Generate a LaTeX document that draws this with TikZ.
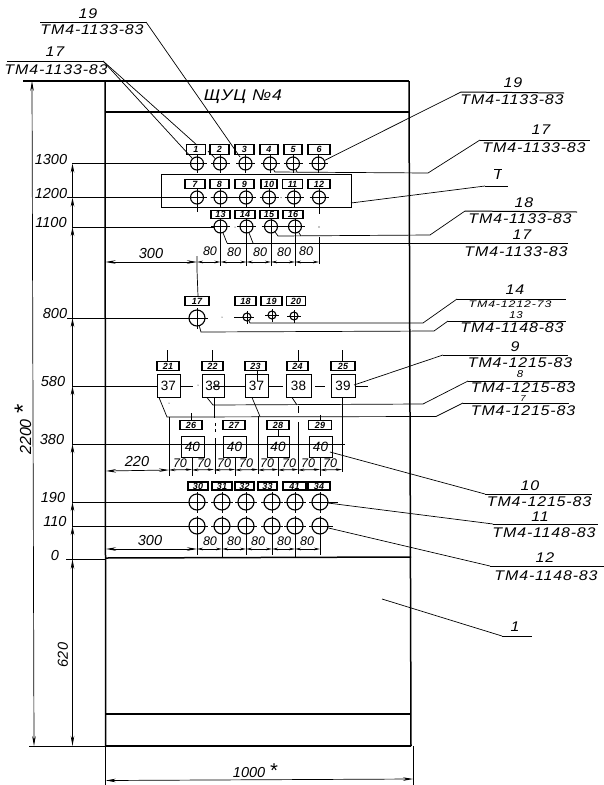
\documentclass[tikz,border=0pt]{standalone}
\usepackage{fontspec}
\setmainfont{Liberation Sans}[FakeStretch=1.14,LetterSpace=6]
\newfontfamily\dimfont{Liberation Sans}
\newfontfamily\widefont{Liberation Sans}[FakeStretch=1.3,LetterSpace=9]
\usetikzlibrary{arrows.meta}
\tikzset{
 thin line/.style={line width=0.7pt},
 frameline/.style={line width=1.5pt},
 leader/.style={line width=0.7pt},
 shelf/.style={line width=1pt},
 dimarrow/.style={line width=0.7pt,{Stealth[length=10pt,width=3.5pt]}-{Stealth[length=10pt,width=3.5pt]}},
 chain/.style={line width=0.8pt,{Stealth[length=6pt,width=2.6pt]}-{Stealth[length=6pt,width=2.6pt]}},
 uparrow/.style={line width=0.7pt,{Stealth[length=9pt,width=3.5pt]}-},
 txt/.style={inner sep=0pt,font=\itshape\fontsize{14}{15}\selectfont},
 dimtxt/.style={inner sep=0pt,font=\dimfont\itshape\fontsize{14.5}{15}\selectfont},
 tiny dim/.style={inner sep=0pt,font=\dimfont\itshape\fontsize{12.5}{13}\selectfont},
 small/.style={inner sep=0pt,font=\itshape\fontsize{10}{10}\selectfont},
 widesmall/.style={inner sep=0pt,font=\widefont\itshape\fontsize{9.5}{10}\selectfont},
 tagbox/.style={draw,line width=1.1pt,inner sep=0pt,minimum height=9.5pt,font=\dimfont\itshape\bfseries\fontsize{9}{9}\selectfont},
 bigbox/.style={draw,line width=1pt,inner sep=0pt,font=\dimfont\fontsize{13.5}{14}\selectfont},
 ring/.style={draw,circle,line width=1.1pt,inner sep=0pt},
}
\newcommand\ringat[4]{% name, x, y, diameter
 \node[ring,minimum size=#4pt] (#1) at (#2,#3) {};
 \draw[thin line] ({#2-#4/2-3},#3) -- ({#2+#4/2+3},#3);
 \draw[thin line] (#2,{#3-#4/2-2}) -- (#2,{#3+#4/2+3});
}
\begin{document}
\begin{tikzpicture}[x=1pt,y=-1pt]
\useasboundingbox (0,0) rectangle (604,785);
% --- cabinet frame
\draw[frameline] (105,81) -- (105.7,746);
\draw[frameline] (409,81) -- (411,746);
\draw[line width=1.1pt] (23,81) -- (409,81);
\draw[frameline] (105,112) -- (409,112);
\draw[frameline] (105.5,558) -- (411,557);
\draw[line width=1.1pt] (105.7,714) -- (411,714);
\draw[frameline] (105.7,746) -- (411,746);
\draw[thin line] (29,746) -- (105,746);
\node[txt,font=\itshape\fontsize{15.5}{16}\selectfont] (title) at (243,97) {ЩУЦ №4};
% --- inner panel
\draw[line width=0.9pt] (161,174.5) rectangle (351,207.5);
% --- outer dims
\draw[dimarrow] (32,81) -- (34,746);
\node[dimtxt,rotate=90,font=\dimfont\itshape\fontsize{16}{17}\selectfont] (d2200) at (23,430) {2200 {\fontsize{24}{24}\selectfont *}};
\node[dimtxt,rotate=90] (d620) at (63,655) {620};
% level lines
\foreach \yy/\txa/\xa/\sx in {163.5/1300/51/72,197.5/1200/51/67,227/1100/51/72,318/800/55/67,386/580/53/72,444/380/52/72,502/190/53/72,526/110/55/72,559/0/55/66}{
  \node[dimtxt,anchor=center] at (\xa,{\yy-4}) {\txa};
  \draw[thin line] (\sx,\yy) -- (105,\yy);
}
\foreach \ya/\yb in {163.5/197.5,197.5/227,227/318,318/386,386/444,444/502,502/526,526/559}{
  \draw[uparrow] (72.5,{\ya}) -- (72.5,{\yb});
}
\draw[dimarrow] (72.5,559) -- (72.5,746);
% --- row 1
\foreach \nm/\xx/\bw in {1/196/19,2/219.5/19,3/244.5/19,4/269/18,5/293/18,6/319/22}{
  \node[tagbox,minimum width=\bw pt] (t\nm) at (\xx,149.5) {\nm};
}
\foreach \nm/\xx in {1/197,2/220,3/245.5,4/270,5/293,6/318.5}{ \ringat{r\nm}{\xx}{163.5}{13} }
\draw[thin line] (105,163.5) -- (191,163.5);
% --- row 2
\foreach \nm/\xx/\bw in {7/195/20,8/219.5/19,9/244.5/19,10/269/16,11/292.5/20,12/319/22}{
  \node[tagbox,minimum width=\bw pt] (t\nm) at (\xx,184) {\nm};
}
\foreach \nm/\xx in {7/197,8/220.5,9/246,10/269,11/294,12/319}{ \ringat{r\nm}{\xx}{197.5}{13} }
\draw[thin line] (105,197.5) -- (191,197.5);
\draw[thin line] (220,197.5) -- (252,197.5);
\draw[thin line] (197,197.5) -- (197,212);
\draw[thin line] (319,197.5) -- (319,214);
\fill (211,197.5) circle (.5pt) (281,197.5) circle (.5pt);
% --- row 3
\foreach \nm/\xx/\bw in {13/220.5/19,14/245/20,15/269/18,16/293/20}{
  \node[tagbox,minimum width=\bw pt,minimum height=8.5pt] (t\nm) at (\xx,214.5) {\nm};
}
\foreach \nm/\xx in {13/220.5,14/246.5,15/271,16/295}{ \ringat{r\nm}{\xx}{226.5}{13} }
\draw[thin line] (105,227) -- (214,227);
\draw[thin line] (265,226.5) -- (301,226.5);
\fill (235,227) circle (.5pt) (319,227) circle (.6pt);
% verticals to 1st dim
\foreach \xx in {220.5,246.5,271,295}{ \draw[thin line] (\xx,232) -- (\xx,266); }
\draw[thin line] (319,237) -- (319,264);
\draw[thin line] (197,256) -- (197,270) -- (198,296);
% dim 300 row
\draw[dimarrow] (105.5,262) -- (197,262);
\foreach \xa/\xb in {197/220.5,220.5/246.5,246.5/271,271/295,295/319}{ \draw[chain] (\xa,262) -- (\xb,262); }
\node[dimtxt] (d300a) at (151,254) {300};
\foreach \xx/\yy in {210/251,234/252,260/252,284/252,306/251}{ \node[tiny dim] at (\xx,\yy) {80}; }
% --- row 800
\node[tagbox,minimum width=24pt] (t17) at (197,301) {17};
\node[tagbox,minimum width=21pt] (t18) at (245.5,301) {18};
\node[tagbox,minimum width=21pt] (t19) at (271.5,301) {19};
\node[tagbox,minimum width=19pt] (t20) at (296,301) {20};
\ringat{r17}{197}{318}{16}
\ringat{r18}{247}{317}{8}
\ringat{r19}{272}{315}{8}
\ringat{r20}{294}{316}{8}
\draw[thin line] (105,318) -- (190,318);
\draw[thin line] (234,317) -- (253,317);
\fill (222,317) circle (.5pt);
% --- row 580
\foreach \nm/\xx/\bw in {21/168/22,22/212.5/21,23/255.5/21,24/297.5/21,25/343/24}{
  \node[tagbox,minimum width=\bw pt] (t\nm) at (\xx,366) {\nm};
}
\foreach \nm/\xx/\bw/\val in {a/168.5/23/37,b/213/22/38,c/256.5/23/37,d/298.5/25/38,e/343/24/39}{
  \node[bigbox,minimum width=\bw pt,minimum height=22.5pt] (s\nm) at (\xx,386) {\val};
}
\draw[thin line] (105,386) -- (157,386);
\draw[thin line] (180,386) -- (193,386);
\draw[thin line] (213,386) -- (245,386);
\draw[thin line] (268,386) -- (283,386);
\draw[thin line] (315,386) -- (325,386);
\draw[thin line] (355,386) -- (368,386);
\foreach \xx in {167,212.5,298,342}{ \draw[thin line] (\xx,350) -- (\xx,361); }
\draw[thin line] (257,371) -- (257,381);
\fill (198,385) circle (.5pt);
% --- row 380
\foreach \nm/\xx/\bw in {26/191/22,27/234/22,28/278/22,29/320/23}{
  \node[tagbox,minimum width=\bw pt] (t\nm) at (\xx,425) {\nm};
}
\draw[thin line] (105,444) -- (345,444);
\foreach \nm/\xx/\bw in {a/192.5/23,b/234.5/23,c/278/22,d/320.5/23}{
  \node[bigbox,font=\dimfont\itshape\fontsize{13.5}{14}\selectfont,minimum width=\bw pt,minimum height=21pt] (q\nm) at (\xx,446.5) {\raisebox{-2pt}{40}};
}
\draw[thin line] (191,413) -- (191,420);
\draw[thin line] (278,430) -- (278,436);
\draw[thin line] (320,415) -- (320,420);
\draw[thin line] (qa.east |- 0,444) -- (qb.west |- 0,444);
\draw[thin line] (qb.east |- 0,444) -- (qc.west |- 0,444);
\draw[thin line] (qc.east |- 0,444) -- (qd.west |- 0,444);
\draw[thin line] (qd.east |- 0,444) -- (345,444);
% verticals from row 580 to the 70 dim
\draw[thin line] (169,417) -- (169,476);
\fill (169,403) circle (.5pt);
\draw[thin line] (214,398) -- (214,418) (215,438) -- (215,474);
\draw[thin line,dashed] (215,423) -- (215,433);
\draw[thin line] (258,416) -- (258,474);
\draw[thin line] (298,406) -- (298,413) (298,422) -- (298,474);
\draw[thin line] (342,397) -- (342,472);
\foreach \xx in {192,235,278,320}{ \draw[thin line] (\xx,457) -- (\xx,476); }
% dim 220 row
\draw[dimarrow] (106,471) -- (169,470);
\foreach \xa/\xb in {169/192,192/214,214/235,235/258,258/278,278/298,298/320,320/342}{ \draw[chain] (\xa,470) -- (\xb,469.5); }
\node[dimtxt] (d220) at (137,462) {220};
\foreach \xx in {180,204,224,246,267,289,308,330}{ \node[tiny dim] at (\xx,463.5) {70}; }
% --- rows 190, 110
\foreach \nm/\xx/\bw in {30/198/20,31/222/20,32/244.5/19,33/267.5/19,41/294.5/23,34/319/22}{
  \node[tagbox,minimum width=\bw pt,minimum height=8pt] (t\nm) at (\xx,486) {\nm};
}
\foreach \nm/\xx in {a/197,b/222,c/246,d/272,e/295,f/320}{
  \ringat{u\nm}{\xx}{502}{16}
  \ringat{v\nm}{\xx}{526}{16}
}
\draw[thin line] (105,502) -- (189,502);
\draw[thin line] (105,526) -- (189,526);
\draw[thin line] (213,526) -- (257,526);
\draw[thin line] (325,502) -- (338,502);
\draw[thin line] (325,526) -- (333,526);
\foreach \xx/\yy in {197/555,222/558,246/555,272/555,295/558,320/555}{ \draw[thin line] (\xx,530) -- (\xx,\yy); }
% dim 300 lower
\draw[dimarrow] (106,549) -- (197,549);
\foreach \xa/\xb in {197/222,222/246,246/272,272/295,295/320}{ \draw[chain] (\xa,549) -- (\xb,549); }
\node[dimtxt] (d300b) at (150,541) {300};
\foreach \xx in {210,234,258,284,307}{ \node[tiny dim] at (\xx,541) {80}; }
% --- bottom dim
\draw[thin line] (105.7,746) -- (105.7,785);
\draw[thin line] (413,746) -- (413,785);
\draw[dimarrow] (105.7,780.5) -- (413,779);
\node[dimtxt] (d1000) at (255,771) {1000 {\fontsize{20}{20}\selectfont *}};
% --- left callouts
\coordinate (s19a) at (40,22); \coordinate (s19b) at (146,22);
\draw[shelf] (s19a) -- (s19b);
\draw[leader] (s19b) -- (240,157);
\node[txt] at (88,14) {19};
\node[txt] at (92,30) {ТМ4-1133-83};
\coordinate (s17a) at (7,61); \coordinate (s17b) at (103,61);
\draw[shelf] (s17a) -- (s17b);
\draw[leader] (s17b) -- (t1.north);
\draw[leader] (s17b) -- (r1);
\node[txt] at (55,52) {17};
\node[txt] at (56,70) {ТМ4-1133-83};
\draw[leader] (208,151) -- (r2);
% --- right callouts
\draw[shelf] (461,92) -- (564,93);
\draw[leader] (461,92) -- (r6);
\node[txt] at (513,83) {19};
\node[txt] at (512,100) {ТМ4-1133-83};

\draw[shelf] (480,140) -- (590,140);
\draw[leader] (480,140) -- (428,173) -- (275,172) -- (r4);
\draw[leader] (297,172) -- (r5);
\node[txt] at (541,130) {17};
\node[txt] at (534,148) {ТМ4-1133-83};

\draw[shelf] (485,186) -- (508,186);
\draw[leader] (485,186) -- (351,203);
\node[txt] at (498,175) {I};
\draw[line width=0.8pt] (494,169.5) -- (502,169.5);

\draw[shelf] (465,211) -- (577,212);
\draw[leader] (465,211) -- (430,235) -- (278,236) -- (r15);
\draw[leader] (301,236) -- (r16);
\node[txt] at (524,203) {18};
\node[txt] at (520,219) {ТМ4-1133-83};

\draw[shelf] (227,243) -- (568,243);
\draw[leader] (227,243) -- (r13);
\draw[leader] (253,243) -- (r14);
\node[txt] at (522,235) {17};
\node[txt] at (516,252) {ТМ4-1133-83};

\draw[shelf] (457,299) -- (566,299);
\draw[leader] (457,299) -- (423,323) -- (250,323) -- (r18);
\node[txt] at (515,290) {14};
\node[widesmall] at (510,304.5) {ТМ4-1212-73};

\draw[shelf] (448,321) -- (566,321);
\draw[leader] (448,321) -- (434,331) -- (201,332) -- (r17);
\node[small] at (516,315) {13};
\node[txt] at (512,328) {ТМ4-1148-83};

\draw[shelf] (443,355) -- (568,355);
\draw[leader] (443,355) -- (354,385);
\node[txt] at (515,347) {9};
\node[txt] at (520,362.5) {ТМ4-1215-83};

\draw[shelf] (468,381) -- (573,381);
\draw[leader] (468,381) -- (423,404) -- (213,405) -- (207,397.5);
\draw[leader] (297,405) -- (292,397.5);
\node[small] at (520,374.5) {8};
\node[txt] at (523,387.5) {ТМ4-1215-83};

\draw[shelf] (463,403) -- (569,403);
\draw[leader] (463,403) -- (436,416.5) -- (167,417) -- (159,397.5);
\draw[leader] (260,416.5) -- (252,397.5);
\node[small,font=\itshape\fontsize{8.5}{9}\selectfont] at (523,398.5) {7};
\node[txt] at (523,411) {ТМ4-1215-83};

\draw[shelf] (485,494) -- (592,494);
\draw[leader] (485,494) -- (330,452);
\node[txt] at (530,486) {10};
\node[txt] at (539,502) {ТМ4-1215-83};

\draw[shelf] (493,524) -- (598,524);
\draw[leader] (493,524) -- (uf);
\node[txt] at (540,517) {11};
\node[txt] at (544,533) {ТМ4-1148-83};

\draw[shelf] (490,566) -- (604,566);
\draw[leader] (490,566) -- (vf);
\node[txt] at (545,558) {12};
\node[txt] at (546,576) {ТМ4-1148-83};

\draw[shelf] (502,636) -- (532,636);
\draw[leader] (502,636) -- (382,599);
\node[txt] at (515,627) {1};
\end{tikzpicture}
\end{document}
